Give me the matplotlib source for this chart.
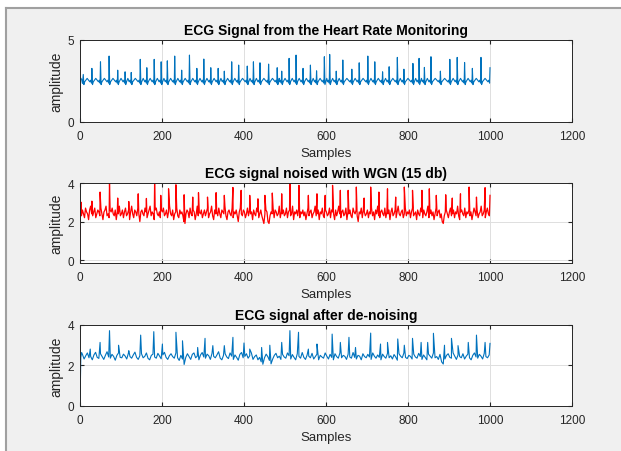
import numpy as np
import matplotlib.pyplot as plt
from matplotlib.lines import Line2D

plt.rcParams['font.family'] = ['Liberation Sans', 'DejaVu Sans']

# raw ECG: R peak positions (sample) and heights, plus S dip / baseline / T wave levels
raw_peak_x = [8, 29, 50, 71, 92, 110, 125, 147, 163, 181,
              198, 213, 231, 248, 267, 285, 302, 319, 337, 352,
              370, 387, 408, 423, 439, 460, 481, 492, 510, 527,
              544, 562, 577, 596, 609, 625, 641, 663, 681, 702,
              719, 738, 754, 774, 790, 812, 827, 840, 856, 879,
              902, 920, 938, 957, 978, 1000]
raw_peak_y = [2.9, 3.27, 3.67, 4.02, 3.16, 3.06, 3.02, 3.82, 3.31, 3.82,
              3.67, 3.73, 4.02, 3.16, 4.08, 3.27, 3.84, 3.31, 3.27, 3.1,
              3.67, 3.47, 3.41, 3.67, 3.61, 3.53, 3.31, 3.1, 3.88, 4.08,
              3.27, 3.47, 3.12, 3.98, 4.12, 3.1, 3.78, 3.22, 3.61, 4.02,
              3.67, 3.06, 3.37, 3.94, 3.22, 3.57, 3.88, 3.33, 3.98, 3.1,
              3.82, 3.94, 3.63, 3.27, 3.94, 3.31]
raw_levels = [2.28, 2.45, 2.66, 2.55]   # S dip, baseline, T wave, P wave

# noisy ECG (15 dB WGN): spikes and the noisy band between them
# band: one value (x10) every 2.5 samples
noisy_peak_x = [3, 29, 49, 72, 92, 119, 142, 162, 182, 197,
                216, 234, 254, 275, 289, 311, 332, 352, 373, 393,
                414, 434, 451, 469, 492, 512, 534, 557, 578, 598,
                616, 635, 654, 674, 693, 709, 729, 750, 770, 791,
                811, 834, 852, 869, 892, 908, 928, 949, 967, 988, 1000]
noisy_peak_y = [3.0, 3.06, 3.53, 4.0, 3.22, 3.04, 3.44, 3.2, 3.97, 3.36,
                3.7, 3.91, 3.39, 3.27, 3.5, 3.27, 3.5, 3.36, 3.77, 3.62,
                3.36, 3.18, 3.36, 3.48, 3.44, 4.0, 3.88, 3.36, 3.44, 3.36,
                3.88, 3.62, 3.62, 3.79, 3.22, 3.79, 3.53, 3.7, 3.27, 3.79,
                3.62, 3.62, 3.7, 3.36, 3.39, 3.22, 3.44, 3.79, 3.27, 3.76, 3.36]
noisy_band = """
25 23 26 24 22 27 25 24 21 26 28 24 23 25 27 22 24 26 25 23 27 24 21 25 26 28 23 24 22 26 25 27 24 23 26 21 25 24 28 23
24 26 22 25 27 23 24 26 21 25 28 24 22 26 25 23 27 24 20 25 26 24 23 27 25 22 24 26 28 23 25 24 21 26 27 24 23 25 22 26
25 27 23 24 26 22 25 28 24 23 26 21 24 25 27 23 22 26 24 25 23 20 19 24 26 25 22 27 24 23 26 25 21 24 28 23 25 24 26 22
24 26 23 25 27 22 24 25 28 23 21 26 24 25 23 27 24 22 26 25 24 28 23 21 25 26 24 23 27 22 25 24 26 23 20 25 27 24 23 26
25 22 24 27 23 26 24 25 21 26 24 23 27 25 22 24 26 23 21 19 24 26 25 20 19 23 25 24 27 22 26 25 23 24 28 22 25 24 26 23
24 27 22 25 26 23 24 28 21 25 24 26 23 27 22 25 24 26 23 25 21 24 27 23 25 26 22 24 25 28 23 24 26 21 25 24 27 23 22 26
25 23 24 27 22 26 25 24 21 26 23 25 28 24 22 25 26 23 24 27 21 25 24 26 23 22 27 25 24 26 23 20 25 24 27 22 26 25 23 24
26 22 25 24 27 23 25 21 26 24 28 23 22 25 26 24 23 27 22 25 24 26 21 25 27 23 24 26 22 25 28 24 23 25 26 22 24 27 23 25
24 26 22 25 27 23 24 25 21 26 24 23 27 25 22 26 24 23 25 28 22 24 26 23 25 21 24 27 23 25 26 22 24 20 19 23 25 26 24 22
25 27 23 24 26 22 25 24 28 23 21 25 26 24 23 27 22 25 24 26 23 25 21 24 27 25 23 26 22 24 25 28 23 24 26 22 25 27 24 23
"""

# de-noised ECG: spikes and the smoothed band between them
# band: one value (x100) every 4 samples
clean_peak_x = [4, 25, 49, 72, 94, 119, 148, 180, 201, 234,
                250, 287, 305, 324, 352, 373, 400, 414, 443, 463,
                492, 512, 533, 557, 578, 615, 635, 656, 672, 709,
                733, 750, 775, 791, 811, 832, 848, 862, 889, 906,
                922, 947, 967, 988, 1000]
clean_peak_y = [2.64, 2.81, 3.14, 3.72, 3.0, 2.73, 3.5, 3.67, 3.06, 3.64,
                3.22, 2.89, 3.34, 2.98, 2.98, 3.39, 3.11, 2.81, 2.89, 3.0,
                3.14, 3.72, 3.64, 2.81, 3.06, 3.55, 3.14, 3.39, 2.89, 3.6,
                3.06, 3.14, 3.31, 3.0, 3.34, 3.14, 3.14, 3.59, 3.0, 3.34,
                2.98, 3.14, 3.5, 3.14, 3.09]
clean_band = """
240 255 232 248 262 238 245 228 252 265 240 235 258 244 230 250 268 242 236 255 245 226 250 262 240
238 256 247 232 260 244 236 252 266 240 230 248 258 238 245 262 235 228 250 256 242 236 260 246 233
252 265 240 230 248 258 244 236 262 238 225 250 232 205 240 258 244 230 255 262 238 246 228 252 264
242 236 256 248 230 260 245 238 252 268 236 228 250 258 242 234 262 246 230 252 240 226 255 264 238
245 258 236 248 262 230 244 252 228 240 218 206 238 256 244 225 208 232 250 260 238 246 230 255 242
236 262 248 232 254 240 228 258 245 236 264 240 230 252 246 238 260 232 244 256 228 250 242 236 262
246 232 255 240 228 258 244 236 262 238 250 245 230 256 242 236 264 240 232 250 246 228 258 244 238
255 242 230 262 246 236 252 240 228 256 244 236 260 238 248 232 254 242 226 258 246 238 262 240 234
250 245 232 256 242 236 260 244 230 252 240 228 256 246 236 262 238 244 230 255 218 207 232 250 258
240 236 262 246 230 252 244 238 258 232 246 256 238 228 250 262 242 236 255 246 232 260 244 238 252
"""


def raw_signal():
    s, b, t, pw = raw_levels
    xs = [0, 1, 4, 6]
    ys = [0.0, 2.7, 2.6, 2.35]
    nxt = raw_peak_x[1:] + [None]
    for p, r, pn in zip(raw_peak_x, raw_peak_y, nxt):
        if pn is None:
            xs += [p - 1, p]
            ys += [b, r]
            break
        xs += [p, p + 1.5, p + 3.5, p + 0.45 * (pn - p), pn - 5, pn - 3, pn - 1]
        ys += [r, s, b, t, b, pw, b - 0.08]
    return np.array(xs), np.array(ys)


def merge(start, band, scale, step, first, peak_x, peak_y):
    vals = np.array(band.split(), dtype=float) / scale
    bx = first + step * np.arange(len(vals))
    xs = np.concatenate([[0], bx, peak_x])
    ys = np.concatenate([[start], vals, peak_y])
    order = np.argsort(xs, kind='stable')
    return xs[order], ys[order]


raw_x, raw_y = raw_signal()
noisy_x, noisy_y = merge(-0.1, noisy_band, 10, 2.5, 1, noisy_peak_x, noisy_peak_y)
clean_x, clean_y = merge(0.0, clean_band, 100, 4, 2, clean_peak_x, clean_peak_y)

fig = plt.figure(figsize=(6.21, 4.52), dpi=100)
fig.patch.set_facecolor('white')
# MATLAB window: grey panel with a frame on top and left
fig.patches.append(plt.Rectangle((6 / 621, 0), 1, 1 - 8.5 / 452,
                                 transform=fig.transFigure, facecolor='#f0f0f0',
                                 edgecolor='none', zorder=-10))
fig.add_artist(Line2D([6 / 621, 1], [1 - 8.5 / 452] * 2, color='#a0a0a0', lw=1.5))
fig.add_artist(Line2D([6 / 621] * 2, [0, 1 - 8.5 / 452], color='#a0a0a0', lw=1.5))

panels = [
    ([0.1288, 0.7279, 0.7923, 0.1814], raw_x, raw_y, '#0072BD', 0.8,
     'ECG Signal from the Heart Rate Monitoring', (0, 5), [0, 5]),
    ([0.1288, 0.4159, 0.7923, 0.1770], noisy_x, noisy_y, '#FF0000', 0.9,
     'ECG signal noised with WGN (15 db)', (-0.15, 4.0), [0, 2, 4]),
    ([0.1288, 0.0996, 0.7923, 0.1792], clean_x, clean_y, '#0072BD', 0.8,
     'ECG signal after de-noising', (0, 4), [0, 2, 4]),
]

for rect, x, y, color, lw, title, ylim, yticks in panels:
    ax = fig.add_axes(rect)
    ax.plot(x, y, color=color, linewidth=lw)
    ax.set_xlim(0, 1200)
    ax.set_ylim(*ylim)
    ax.set_xticks(range(0, 1201, 200))
    ax.set_yticks(yticks)
    ax.grid(True, color='#dedede', linewidth=0.7)
    ax.set_axisbelow(True)
    ax.tick_params(direction='in', length=3, top=True, right=True,
                   labelsize=8.5, colors='#262626', pad=5.5)
    ax.tick_params(axis='y', pad=4)
    for sp in ax.spines.values():
        sp.set_color('#262626')
        sp.set_linewidth(0.7)
    ax.set_title(title, fontsize=10, fontweight='bold', pad=4.5)
    ax.set_xlabel('Samples', fontsize=9.5, color='#262626', labelpad=4)
    ax.set_ylabel('amplitude', fontsize=10, color='#262626')
    ax.yaxis.set_label_coords(-0.034, 0.5)

fig.savefig('out.png', dpi=100, facecolor=fig.get_facecolor())
